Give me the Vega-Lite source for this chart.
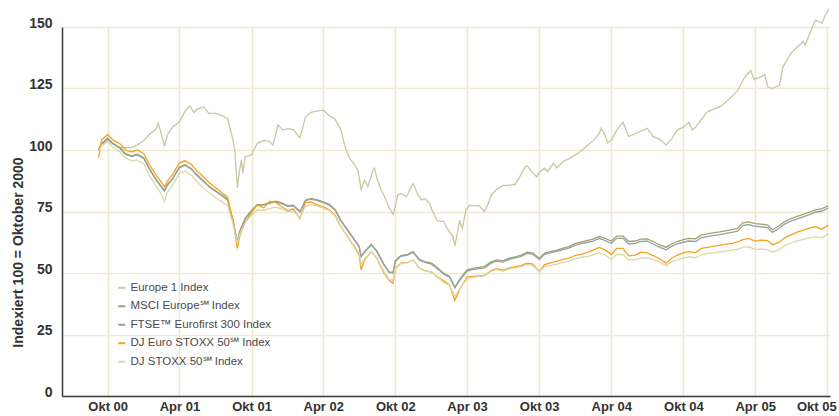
{
  "$schema": "https://vega.github.io/schema/vega-lite/v6.json",
  "width": 768,
  "height": 369,
  "autosize": {"type": "none"},
  "padding": {"left": 62, "top": 27, "right": 9, "bottom": 20},
  "background": "white",
  "config": {"view": {"stroke": null}, "font": "Liberation Sans"},
  "data": {"values": [
    {"d":"2000-09-08","e1":100,"msci":100,"ftse":100,"es50":96.8,"s50":99.5},
    {"d":"2000-09-15","e1":102.4,"msci":102.6,"ftse":102.3,"es50":104,"s50":101.5},
    {"d":"2000-10-01","e1":104,"msci":104.9,"ftse":104.6,"es50":106.3,"s50":103.5},
    {"d":"2000-10-15","e1":102.5,"msci":102.6,"ftse":102.4,"es50":104,"s50":101},
    {"d":"2000-11-01","e1":101,"msci":101,"ftse":100.7,"es50":102.5,"s50":99.3},
    {"d":"2000-11-15","e1":101,"msci":98.5,"ftse":98.2,"es50":100,"s50":96.8},
    {"d":"2000-12-01","e1":101,"msci":97.6,"ftse":97.3,"es50":99.2,"s50":95.6},
    {"d":"2000-12-15","e1":102,"msci":98.3,"ftse":98,"es50":100,"s50":96},
    {"d":"2001-01-01","e1":104,"msci":96.8,"ftse":96.5,"es50":98.5,"s50":94.3},
    {"d":"2001-01-15","e1":106.4,"msci":92.4,"ftse":92.1,"es50":94,"s50":89.6},
    {"d":"2001-02-01","e1":108.5,"msci":88.1,"ftse":87.8,"es50":89.8,"s50":85.3},
    {"d":"2001-02-06","e1":110.9},
    {"d":"2001-02-15","e1":106,"msci":85,"ftse":84.7,"es50":86.6,"s50":81.8},
    {"d":"2001-02-22","e1":101.5,"msci":83.5,"ftse":83.2,"es50":85,"s50":79},
    {"d":"2001-03-01","e1":106,"msci":85.8,"ftse":85.5,"es50":87.3,"s50":82.6},
    {"d":"2001-03-15","e1":109.5,"msci":88.6,"ftse":88.3,"es50":90.2,"s50":85.8},
    {"d":"2001-04-01","e1":111.5,"msci":93.1,"ftse":92.8,"es50":94.8,"s50":90.5},
    {"d":"2001-04-15","e1":115.8,"msci":94,"ftse":93.7,"es50":95.6,"s50":91.4},
    {"d":"2001-04-27","e1":118},
    {"d":"2001-05-01","e1":117,"msci":92.5,"ftse":92.2,"es50":94.2,"s50":89.8},
    {"d":"2001-05-08","e1":115.3},
    {"d":"2001-05-15","e1":116.5,"msci":90,"ftse":89.7,"es50":91.5,"s50":87.2},
    {"d":"2001-06-01","e1":117.5,"msci":87.5,"ftse":87.2,"es50":89,"s50":84.6},
    {"d":"2001-06-15","e1":114.9,"msci":85.4,"ftse":85.1,"es50":86.8,"s50":82.6},
    {"d":"2001-07-01","e1":114.9,"msci":83.5,"ftse":83.2,"es50":84.8,"s50":80.8},
    {"d":"2001-07-15","e1":114.2,"msci":82,"ftse":81.7,"es50":83,"s50":79.3},
    {"d":"2001-08-01","e1":112.8,"msci":80,"ftse":79.7,"es50":80.8,"s50":77.5},
    {"d":"2001-08-15","e1":104,"msci":71.5,"ftse":71.2,"es50":71,"s50":70},
    {"d":"2001-08-20","e1":99},
    {"d":"2001-08-26","e1":84.6,"msci":62.5,"ftse":62.3,"es50":60,"s50":62},
    {"d":"2001-09-01","e1":92,"msci":67,"ftse":66.7,"es50":65,"s50":65.8},
    {"d":"2001-09-05","e1":95.9},
    {"d":"2001-09-09","e1":90.5},
    {"d":"2001-09-15","e1":97.3,"msci":72.3,"ftse":72,"es50":70.8,"s50":70.5},
    {"d":"2001-10-01","e1":98,"msci":75.4,"ftse":75.1,"es50":74.4,"s50":73.5},
    {"d":"2001-10-15","e1":102.6,"msci":77.8,"ftse":77.5,"es50":77.8,"s50":75.6},
    {"d":"2001-11-01","e1":103.9,"msci":77.9,"ftse":77.6,"es50":76.4,"s50":75.5},
    {"d":"2001-11-15","e1":103.5,"msci":78.6,"ftse":78.3,"es50":79.1,"s50":76.2},
    {"d":"2001-11-24","e1":102},
    {"d":"2001-12-01","e1":106,"msci":79.2,"ftse":78.9,"es50":78.7,"s50":76.8},
    {"d":"2001-12-07","e1":110.2},
    {"d":"2001-12-15","e1":108.9,"msci":78.6,"ftse":78.3,"es50":77.1,"s50":76.2},
    {"d":"2001-12-20","e1":108.1},
    {"d":"2002-01-01","e1":108.7,"msci":77.4,"ftse":77.1,"es50":75.4,"s50":75},
    {"d":"2002-01-15","e1":108.3,"msci":77.6,"ftse":77.3,"es50":76.1,"s50":75.2},
    {"d":"2002-02-01","e1":104.9,"msci":75,"ftse":74.7,"es50":72,"s50":72.5},
    {"d":"2002-02-15","e1":113.5,"msci":79.7,"ftse":79.4,"es50":78.7,"s50":77.2},
    {"d":"2002-03-01","e1":115.3,"msci":80.3,"ftse":80,"es50":78.8,"s50":77.8},
    {"d":"2002-03-15","e1":115.8,"msci":79.8,"ftse":79.5,"es50":77.8,"s50":77.3},
    {"d":"2002-04-01","e1":116.2,"msci":78.9,"ftse":78.6,"es50":76.9,"s50":76.4},
    {"d":"2002-04-15","e1":114.1,"msci":78,"ftse":77.7,"es50":75.8,"s50":75.5},
    {"d":"2002-05-01","e1":112.5,"msci":75.8,"ftse":75.5,"es50":73.5,"s50":73.2},
    {"d":"2002-05-15","e1":108.5,"msci":71.6,"ftse":71.3,"es50":69,"s50":69},
    {"d":"2002-05-21","e1":104.7},
    {"d":"2002-05-29","e1":100},
    {"d":"2002-06-01","e1":99,"msci":67.7,"ftse":67.4,"es50":65,"s50":65},
    {"d":"2002-06-07","e1":96.6},
    {"d":"2002-06-15","e1":95,"msci":64.6,"ftse":64.3,"es50":61.6,"s50":61.8},
    {"d":"2002-06-28","e1":91.9},
    {"d":"2002-07-01","e1":89,"msci":60.9,"ftse":60.6,"es50":57.4,"s50":58},
    {"d":"2002-07-06","e1":84,"msci":56.8,"ftse":56.5,"es50":51.3,"s50":53.5},
    {"d":"2002-07-15","e1":87.7,"msci":58.8,"ftse":58.5,"es50":55.3,"s50":55.8},
    {"d":"2002-07-23","e1":85.1},
    {"d":"2002-08-01","e1":89.5,"msci":61.7,"ftse":61.4,"es50":58.7,"s50":58.7},
    {"d":"2002-08-05","e1":91.9},
    {"d":"2002-08-09","e1":92.6},
    {"d":"2002-08-15","e1":88.5,"msci":59,"ftse":58.7,"es50":56,"s50":56},
    {"d":"2002-08-26","e1":83.7},
    {"d":"2002-09-01","e1":82,"msci":53.8,"ftse":53.5,"es50":50.3,"s50":50.8},
    {"d":"2002-09-15","e1":76.5,"msci":50.5,"ftse":50.2,"es50":47,"s50":47.5},
    {"d":"2002-09-25","e1":73.8,"msci":50.3,"ftse":50,"es50":45.8,"s50":47},
    {"d":"2002-10-01","e1":77.3,"msci":55,"ftse":54.7,"es50":52,"s50":51.8},
    {"d":"2002-10-07","e1":81.7},
    {"d":"2002-10-15","e1":82.3,"msci":57.1,"ftse":56.8,"es50":54,"s50":53.8},
    {"d":"2002-10-29","e1":81},
    {"d":"2002-11-01","e1":81.8,"msci":57.6,"ftse":57.3,"es50":54.3,"s50":54.2},
    {"d":"2002-11-06","e1":83.7},
    {"d":"2002-11-15","e1":86.3,"msci":58.7,"ftse":58.4,"es50":55.3,"s50":55.2},
    {"d":"2002-11-19","e1":85.1},
    {"d":"2002-11-27","e1":81.7},
    {"d":"2002-12-01","e1":81,"msci":55.5,"ftse":55.2,"es50":52,"s50":52},
    {"d":"2002-12-06","e1":79.7},
    {"d":"2002-12-15","e1":80.2,"msci":54.6,"ftse":54.3,"es50":51,"s50":51},
    {"d":"2002-12-27","e1":78.3},
    {"d":"2003-01-01","e1":76,"msci":54,"ftse":53.6,"es50":50.4,"s50":50.3},
    {"d":"2003-01-15","e1":71.2,"msci":52.2,"ftse":51.8,"es50":48.5,"s50":48.4},
    {"d":"2003-02-01","e1":70.9,"msci":49.9,"ftse":49.5,"es50":46.8,"s50":46.2},
    {"d":"2003-02-07","e1":68.8},
    {"d":"2003-02-15","e1":66.8,"msci":48.7,"ftse":48.3,"es50":45.3,"s50":45},
    {"d":"2003-02-24","e1":64.8},
    {"d":"2003-03-01","e1":61,"msci":44.3,"ftse":43.9,"es50":38.8,"s50":40.5},
    {"d":"2003-03-09","e1":67.5},
    {"d":"2003-03-13","e1":71.5},
    {"d":"2003-03-15","e1":70,"msci":47.8,"ftse":47.4,"es50":44,"s50":44},
    {"d":"2003-03-20","e1":68.1},
    {"d":"2003-03-30","e1":76.3},
    {"d":"2003-04-01","e1":76.3,"msci":51.3,"ftse":50.8,"es50":48.3,"s50":47.7},
    {"d":"2003-04-08","e1":77.6},
    {"d":"2003-04-15","e1":77.3,"msci":51.9,"ftse":51.4,"es50":48.6,"s50":48.2},
    {"d":"2003-05-01","e1":77.5,"msci":52.3,"ftse":51.8,"es50":48.8,"s50":48.5},
    {"d":"2003-05-15","e1":75,"msci":52.6,"ftse":52.1,"es50":49,"s50":48.8},
    {"d":"2003-05-25","e1":78.3},
    {"d":"2003-06-01","e1":81.7,"msci":54.5,"ftse":54,"es50":51,"s50":50.7},
    {"d":"2003-06-15","e1":84,"msci":55.3,"ftse":54.8,"es50":51.8,"s50":51.4},
    {"d":"2003-07-01","e1":85.6,"msci":54.9,"ftse":54.4,"es50":51.2,"s50":50.8},
    {"d":"2003-07-15","e1":85.6,"msci":55.9,"ftse":55.4,"es50":52,"s50":51.6},
    {"d":"2003-08-01","e1":86,"msci":56.6,"ftse":56.1,"es50":52.6,"s50":52.1},
    {"d":"2003-08-15","e1":89.8,"msci":57.2,"ftse":56.7,"es50":53,"s50":52.5},
    {"d":"2003-08-26","e1":93.2},
    {"d":"2003-09-01","e1":93.5,"msci":58.5,"ftse":58,"es50":54,"s50":53.5},
    {"d":"2003-09-15","e1":90.6,"msci":58.1,"ftse":57.6,"es50":53.6,"s50":53},
    {"d":"2003-09-25","e1":89.1},
    {"d":"2003-10-01","e1":91,"msci":56,"ftse":55.5,"es50":50.5,"s50":50.5},
    {"d":"2003-10-15","e1":92.6,"msci":58.1,"ftse":57.6,"es50":53.4,"s50":52.6},
    {"d":"2003-10-22","e1":91.2},
    {"d":"2003-11-01","e1":93.4,"msci":58.8,"ftse":58.3,"es50":54.2,"s50":53.2},
    {"d":"2003-11-06","e1":94.6},
    {"d":"2003-11-15","e1":92.7,"msci":59.3,"ftse":58.8,"es50":54.8,"s50":53.6},
    {"d":"2003-12-01","e1":95.4,"msci":60.1,"ftse":59.5,"es50":55.5,"s50":54.3},
    {"d":"2003-12-15","e1":96.4,"msci":60.7,"ftse":60.1,"es50":56,"s50":54.8},
    {"d":"2004-01-01","e1":98,"msci":62,"ftse":61.3,"es50":57.2,"s50":55.8},
    {"d":"2004-01-15","e1":99.6,"msci":62.6,"ftse":61.9,"es50":57.6,"s50":56.3},
    {"d":"2004-02-01","e1":101.9,"msci":63.3,"ftse":62.5,"es50":58.4,"s50":56.8},
    {"d":"2004-02-15","e1":103.8,"msci":63.8,"ftse":63,"es50":59.3,"s50":57.5},
    {"d":"2004-03-01","e1":106.5,"msci":64.9,"ftse":64.1,"es50":60.4,"s50":58.3},
    {"d":"2004-03-06","e1":108.8},
    {"d":"2004-03-15","e1":106.5,"msci":64.2,"ftse":63.3,"es50":59.5,"s50":57.5},
    {"d":"2004-03-23","e1":103},
    {"d":"2004-04-01","e1":104,"msci":63,"ftse":62.1,"es50":57.5,"s50":55.5},
    {"d":"2004-04-15","e1":108.2,"msci":65,"ftse":64.1,"es50":60,"s50":57.6},
    {"d":"2004-05-01","e1":111.3,"msci":65,"ftse":64.1,"es50":60,"s50":57.5},
    {"d":"2004-05-09","e1":108},
    {"d":"2004-05-15","e1":105.5,"msci":62.8,"ftse":61.8,"es50":57,"s50":55.3},
    {"d":"2004-06-01","e1":106.6,"msci":63,"ftse":62,"es50":57.3,"s50":55.5},
    {"d":"2004-06-15","e1":107.7,"msci":63.8,"ftse":62.8,"es50":58.5,"s50":56},
    {"d":"2004-07-01","e1":108.8,"msci":63.9,"ftse":62.9,"es50":58.2,"s50":56.2},
    {"d":"2004-07-11","e1":106.7},
    {"d":"2004-07-15","e1":105.5,"msci":62.9,"ftse":61.9,"es50":57.2,"s50":55.5},
    {"d":"2004-08-01","e1":104.4,"msci":61.5,"ftse":60.5,"es50":55.8,"s50":54.5},
    {"d":"2004-08-09","e1":103.4},
    {"d":"2004-08-18","e1":102,"msci":60.4,"ftse":59.4,"es50":54,"s50":53},
    {"d":"2004-09-01","e1":104.5,"msci":61.8,"ftse":60.8,"es50":56,"s50":54.6},
    {"d":"2004-09-15","e1":108.1,"msci":62.8,"ftse":61.8,"es50":57.2,"s50":55.3},
    {"d":"2004-10-01","e1":109.3,"msci":63.6,"ftse":62.5,"es50":58.2,"s50":56.1},
    {"d":"2004-10-15","e1":111.3,"msci":64.1,"ftse":63,"es50":58.7,"s50":56.6},
    {"d":"2004-10-24","e1":108.1},
    {"d":"2004-11-01","e1":109.3,"msci":63.9,"ftse":62.8,"es50":58.2,"s50":56.2},
    {"d":"2004-11-15","e1":112.4,"msci":65.4,"ftse":64.3,"es50":60,"s50":57.4},
    {"d":"2004-12-01","e1":115.5,"msci":65.9,"ftse":64.8,"es50":60.4,"s50":57.9},
    {"d":"2004-12-15","e1":116.5,"msci":66.3,"ftse":65.2,"es50":60.8,"s50":58.2},
    {"d":"2005-01-01","e1":117.5,"msci":66.7,"ftse":65.6,"es50":61.2,"s50":58.6},
    {"d":"2005-01-15","e1":119.2,"msci":67.1,"ftse":66,"es50":61.6,"s50":58.9},
    {"d":"2005-02-01","e1":121.8,"msci":67.6,"ftse":66.5,"es50":62,"s50":59.3},
    {"d":"2005-02-15","e1":124,"msci":68.1,"ftse":67,"es50":62.5,"s50":59.6},
    {"d":"2005-03-01","e1":128.4,"msci":70.4,"ftse":69.3,"es50":63.6,"s50":60.4},
    {"d":"2005-03-13","e1":131.2},
    {"d":"2005-03-15","e1":131,"msci":70.8,"ftse":69.7,"es50":64.1,"s50":60.7},
    {"d":"2005-03-21","e1":132.3},
    {"d":"2005-03-30","e1":128.5},
    {"d":"2005-04-01","e1":129,"msci":70.1,"ftse":69,"es50":63,"s50":59.6},
    {"d":"2005-04-15","e1":129.6,"msci":69.9,"ftse":68.8,"es50":63.4,"s50":59.8},
    {"d":"2005-04-25","e1":130.8},
    {"d":"2005-05-03","e1":125.7,"msci":69.5,"ftse":68.4,"es50":63.2,"s50":59.4},
    {"d":"2005-05-15","e1":125,"msci":67.6,"ftse":66.5,"es50":61.4,"s50":58.5},
    {"d":"2005-06-02","e1":126.4,"msci":69.3,"ftse":68.3,"es50":62.6,"s50":59.6},
    {"d":"2005-06-10","e1":133.5},
    {"d":"2005-06-15","e1":135,"msci":70.9,"ftse":69.9,"es50":64.3,"s50":61.1},
    {"d":"2005-07-01","e1":139.4,"msci":72.1,"ftse":71.1,"es50":65.5,"s50":62.2},
    {"d":"2005-07-15","e1":141.6,"msci":72.9,"ftse":71.9,"es50":66.5,"s50":63},
    {"d":"2005-08-01","e1":144.1,"msci":73.8,"ftse":72.8,"es50":67.4,"s50":63.7},
    {"d":"2005-08-06","e1":142.7},
    {"d":"2005-08-15","e1":146.2,"msci":74.6,"ftse":73.6,"es50":68.2,"s50":64.2},
    {"d":"2005-09-01","e1":152.8,"msci":75.7,"ftse":74.7,"es50":68.8,"s50":64.8},
    {"d":"2005-09-09","e1":152.2},
    {"d":"2005-09-18","e1":151.6,"msci":76.2,"ftse":75.2,"es50":67.8,"s50":64.3},
    {"d":"2005-09-26","e1":154.9},
    {"d":"2005-10-01","e1":156,"msci":77.2,"ftse":76.2,"es50":69.2,"s50":65.8},
    {"d":"2005-10-04","e1":157.4,"msci":77.3,"ftse":76.4,"es50":69.5,"s50":66.1}
  ]},
  "transform": [
    {"fold": ["e1", "msci", "ftse", "es50", "s50"], "as": ["series", "value"]},
    {"filter": "isValid(datum.value)"}
  ],
  "mark": {"type": "line", "strokeWidth": 1.3, "interpolate": "linear"},
  "encoding": {
    "x": {
      "field": "d",
      "type": "temporal",
      "scale": {"domain": [{"year": 2000, "month": "jun", "date": 7}, {"year": 2005, "month": "oct", "date": 8}]},
      "axis": {
        "title": null,
        "values": [
          {"year": 2000, "month": "oct", "date": 1},
          {"year": 2001, "month": "apr", "date": 1},
          {"year": 2001, "month": "oct", "date": 1},
          {"year": 2002, "month": "apr", "date": 1},
          {"year": 2002, "month": "oct", "date": 1},
          {"year": 2003, "month": "apr", "date": 1},
          {"year": 2003, "month": "oct", "date": 1},
          {"year": 2004, "month": "apr", "date": 1},
          {"year": 2004, "month": "oct", "date": 1},
          {"year": 2005, "month": "apr", "date": 1},
          {"year": 2005, "month": "oct", "date": 1}
        ],
        "labelExpr": "(month(datum.value) == 9 ? 'Okt ' : 'Apr ') + timeFormat(datum.value, '%y')",
        "grid": true,
        "gridColor": "#efe9d3",
        "gridWidth": 1.6,
        "ticks": false,
        "domainColor": "#3a3a3a",
        "domainWidth": 1.5,
        "labelFont": "Liberation Sans",
        "labelFontWeight": "bold",
        "labelFontSize": 13,
        "labelColor": "#333333",
        "labelPadding": 4,
        "labelFlush": 5,
        "labelFlushOffset": 9,
        "labelOverlap": false
      }
    },
    "y": {
      "field": "value",
      "type": "quantitative",
      "scale": {"domain": [0, 150], "nice": false},
      "axis": {
        "title": "Indexiert 100 = Oktober 2000",
        "values": [0, 25, 50, 75, 100, 125, 150],
        "grid": true,
        "gridColor": "#efe9d3",
        "gridWidth": 1.6,
        "ticks": false,
        "domainColor": "#3a3a3a",
        "domainWidth": 1.5,
        "labelFont": "Liberation Sans",
        "labelFontWeight": "bold",
        "labelFontSize": 14,
        "labelColor": "#333333",
        "labelPadding": 10,
        "labelBaseline": "alphabetic",
        "labelFlush": false,
        "titleFont": "Liberation Sans",
        "titleFontWeight": "bold",
        "titleFontSize": 14,
        "titleColor": "#333333",
        "titleAngle": -90,
        "titleAnchor": null,
        "titleAlign": "center",
        "titleBaseline": "middle",
        "titleX": -44,
        "titleY": 225
      }
    },
    "color": {
      "field": "series",
      "type": "nominal",
      "scale": {
        "domain": ["e1", "msci", "ftse", "es50", "s50"],
        "range": ["#c9c6a0", "#a4a070", "#91a5a1", "#f6a21e", "#ddd6a6"]
      },
      "legend": {
        "title": null,
        "orient": "none",
        "legendX": 54,
        "legendY": 255,
        "padding": 0,
        "symbolType": "stroke",
        "symbolSize": 49,
        "symbolStrokeWidth": 2,
        "labelFont": "Liberation Sans",
        "labelFontSize": 11.5,
        "labelColor": "#4a4a4a",
        "labelOffset": 3,
        "rowPadding": 5.5,
        "labelExpr": "datum.label == 'e1' ? 'Europe 1 Index' : datum.label == 'msci' ? 'MSCI Europe℠ Index' : datum.label == 'ftse' ? 'FTSE™ Eurofirst 300 Index' : datum.label == 'es50' ? 'DJ Euro STOXX 50℠ Index' : 'DJ STOXX 50℠ Index'"
      }
    }
  }
}
